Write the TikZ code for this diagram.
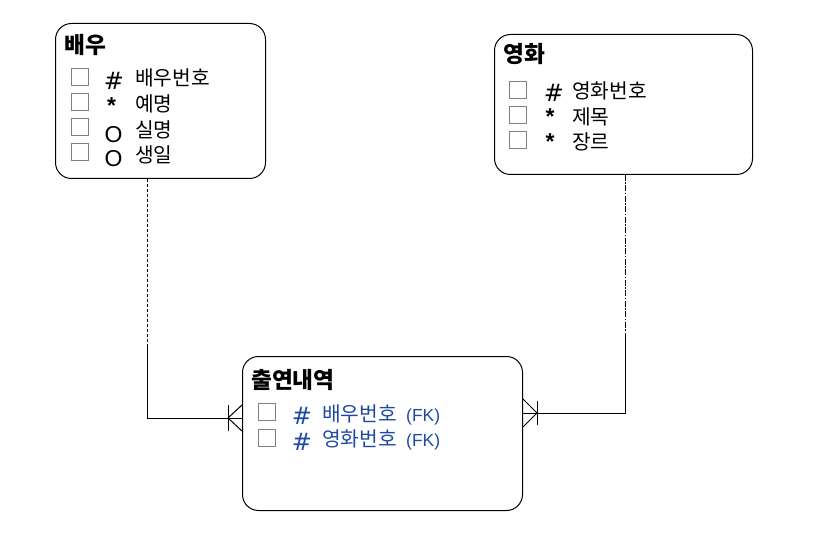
\documentclass[tikz,border=0pt]{standalone}
\usepackage{fontspec}
\setmainfont{Noto Sans CJK KR}
\newfontfamily\symfont{Liberation Sans}
\newfontfamily\hashfont{DejaVu Sans}
\definecolor{fkblue}{RGB}{30,72,165}
\definecolor{chkgray}{RGB}{128,128,128}
\begin{document}
\begin{tikzpicture}[x=1pt,y=-1pt,
  entity/.style={draw, rounded corners=16pt, line width=1pt, inner sep=0, anchor=north west},
  chk/.style={draw=chkgray, line width=1pt, minimum size=17pt, inner sep=0},
  attr/.style={anchor=base west, inner sep=0, font=\fontsize{20.3}{23}\selectfont},
  ttl/.style={anchor=base west, inner sep=0, font=\fontsize{22.7}{26}\selectfont\bfseries},
  sym/.style={anchor=base, inner sep=0, font=\symfont\fontsize{23}{26}\selectfont},
  star/.style={anchor=base, inner sep=0, font=\symfont\bfseries\fontsize{23}{26}\selectfont},
  hash/.style={anchor=base, inner sep=0, font=\hashfont\fontsize{24}{27}\selectfont},
  fk/.style={anchor=base west, inner sep=0, font=\symfont\fontsize{17.5}{20}\selectfont, text=fkblue},
  conn/.style={line width=1pt},
  dashA/.style={line width=1pt, dash pattern=on 3pt off 2pt},
  dashB/.style={line width=1pt, dash pattern=on 6pt off 1.5pt on 1.5pt off 1.5pt}]
\useasboundingbox (0,0) rectangle (814,553);

% entity boxes
\node[entity, minimum width=210pt, minimum height=155pt] (actor) at (55,23) {};
\node[entity, minimum width=258pt, minimum height=140pt] (movie) at (494,34) {};
\node[entity, minimum width=280pt, minimum height=154pt] (cast) at (242,356) {};

% actor box
\node[ttl] (actorT) at (64,54) {배우};
\node[chk] (ac1) at (80,77.5) {};
\node[chk] (ac2) at (80,102.5) {};
\node[chk] (ac3) at (80,127.5) {};
\node[chk] (ac4) at (80,152.5) {};
\node[hash] (as1) at (114,90) {\#};
\node[star] (as2) at (111.5,114) {*};
\node[sym] (as3) at (113.5,143) {O};
\node[sym] (as4) at (113.5,167) {O};
\node[attr] (aa1) at (135,86) {배우번호};
\node[attr] (aa2) at (135,112) {예명};
\node[attr] (aa3) at (135,138) {실명};
\node[attr] (aa4) at (135,163) {생일};

% movie box
\node[ttl] (movieT) at (503,63) {영화};
\node[chk] (mc1) at (518,90) {};
\node[chk] (mc2) at (518,115) {};
\node[chk] (mc3) at (518,140) {};
\node[hash] (ms1) at (554,102) {\#};
\node[star] (ms2) at (550,124.5) {*};
\node[star] (ms3) at (550,149.5) {*};
\node[attr] (ma1) at (572,99) {영화번호};
\node[attr] (ma2) at (572,125) {제목};
\node[attr] (ma3) at (572,150) {장르};

% cast box
\node[ttl] (castT) at (251,388) {출연내역};
\node[chk] (cc1) at (267,412) {};
\node[chk] (cc2) at (267,438) {};
\node[hash, text=fkblue] (cs1) at (302,424) {\#};
\node[hash, text=fkblue] (cs2) at (302,450) {\#};
\node[attr, text=fkblue] (ca1) at (322,421) {배우번호};
\node[attr, text=fkblue] (ca2) at (322,446) {영화번호};
\node[fk] (cf1) at (406,421) {(FK)};
\node[fk] (cf2) at (406,446) {(FK)};

% connector actor -> cast
\coordinate (l1) at (147,346);
\coordinate (l2) at (147,418);
\coordinate (lbar) at (228,418);
\draw[dashA] (actor.south -| l1) -- (l1);
\draw[conn] (l1) -- (l2) -- (l2 -| cast.west);
\draw[conn] ([yshift=-13pt]lbar) -- ([yshift=13pt]lbar);
\draw[conn] (lbar) -- ([yshift=-13pt]lbar -| cast.west);
\draw[conn] (lbar) -- ([yshift=13pt]lbar -| cast.west);

% connector movie -> cast
\coordinate (r1) at (625,336);
\coordinate (r2) at (625,413);
\coordinate (rbar) at (537,413);
\draw[dashB] (movie.south -| r1) -- (r1);
\draw[conn] (r1) -- (r2) -- (r2 -| cast.east);
\draw[conn] ([yshift=-12pt]rbar) -- ([yshift=12pt]rbar);
\draw[conn] (rbar) -- ([yshift=-14pt]rbar -| cast.east);
\draw[conn] (rbar) -- ([yshift=14pt]rbar -| cast.east);
\end{tikzpicture}
\end{document}
